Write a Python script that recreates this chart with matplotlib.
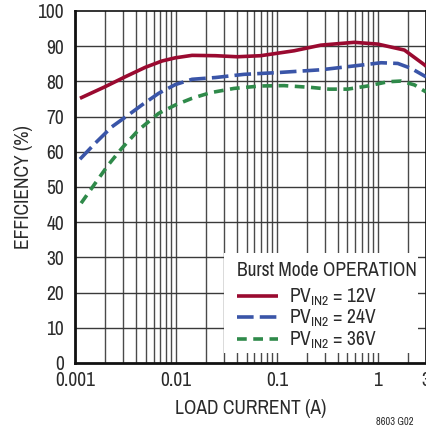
import matplotlib
matplotlib.use("Agg")
import matplotlib.pyplot as plt
from matplotlib.patches import Rectangle
from matplotlib.ticker import FixedLocator, NullFormatter, NullLocator

FONT = ['Archivo Narrow', 'Roboto Condensed', 'DejaVu Sans']
plt.rcParams['font.family'] = FONT
plt.rcParams['mathtext.fontset'] = 'custom'
plt.rcParams['mathtext.rm'] = 'Archivo Narrow'
plt.rcParams['mathtext.default'] = 'regular'

# Efficiency vs load current, Burst Mode operation
i_12v = [0.00112, 0.00199, 0.00314, 0.00497, 0.00728, 0.00986, 0.01445, 0.02464,
         0.0405, 0.069, 0.148, 0.2725, 0.584, 0.998, 1.834, 2.9, 3.0]
eff_12v = [75.2, 78.5, 81.3, 84.0, 85.8, 86.7, 87.4, 87.3,
           87.0, 87.3, 88.7, 90.3, 91.1, 90.6, 88.9, 84.7, 84.3]

i_24v = [0.00112, 0.00158, 0.00232, 0.00339, 0.0046, 0.00673, 0.00986, 0.01445,
         0.02464, 0.0471, 0.1012, 0.2725, 0.584, 1.077, 1.577, 2.138, 3.0]
eff_24v = [57.9, 62.4, 67.1, 70.5, 73.3, 76.6, 79.1, 80.6,
           81.1, 82.0, 82.5, 83.3, 84.4, 85.3, 85.1, 83.7, 81.3]

i_36v = [0.00115, 0.00158, 0.00214, 0.00291, 0.00426, 0.00673, 0.00986, 0.01445,
         0.02198, 0.0375, 0.069, 0.1177, 0.2168, 0.3296, 0.502, 0.794, 1.254,
         1.701, 2.306, 3.0]
eff_36v = [45.4, 51.0, 56.3, 61.0, 66.2, 70.9, 73.3, 75.2,
           76.8, 78.0, 78.7, 78.8, 78.3, 77.8, 77.8, 78.7, 79.9,
           80.1, 79.0, 77.0]

x_ticks = [0.001, 0.01, 0.1, 1, 3]
x_tick_labels = ['0.001', '0.01', '0.1', '1', '3']
y_ticks = list(range(0, 101, 10))

labels = [r'PV$_{IN2}$ = 12V', r'PV$_{IN2}$ = 24V', r'PV$_{IN2}$ = 36V']
colors = ['#9a0a30', '#3a55a8', '#2f8a4a']
TEXT = '#2a2a2a'

fig = plt.figure(figsize=(4.27, 4.33), dpi=100)
ax = fig.add_axes([75/427, 70/433, 351/427, 352/433])

ax.set_xscale('log')
ax.set_xlim(0.001, 3)
ax.set_ylim(0, 100)

# grid: decades plus every 2..9 subdivision
grid_x = []
for dec in [0.001, 0.01, 0.1, 1]:
    for k in range(1, 10):
        v = dec * k
        if v <= 3:
            grid_x.append(v)
for v in grid_x:
    ax.axvline(v, color='#4a4a4a', lw=1.0, zorder=1)
for v in y_ticks[1:-1]:
    ax.axhline(v, color='#3a3a3a', lw=1.0, zorder=1)

ax.xaxis.set_major_locator(FixedLocator(x_ticks))
ax.set_xticklabels(x_tick_labels)
ax.xaxis.set_minor_locator(NullLocator())
ax.xaxis.set_minor_formatter(NullFormatter())
ax.set_yticks(y_ticks)
ax.tick_params(length=0, labelsize=14, colors=TEXT)
ax.tick_params(axis='y', pad=8)
ax.tick_params(axis='x', pad=6)

for s in ax.spines.values():
    s.set_color('#111111')
    s.set_linewidth(1.2)
ax.spines['left'].set_linewidth(2)
ax.spines['bottom'].set_linewidth(2)

l1, = ax.plot(i_12v, eff_12v, color=colors[0], lw=2.6, zorder=3, solid_capstyle='butt')
l2, = ax.plot(i_24v, eff_24v, color=colors[1], lw=2.6, zorder=3,
              dashes=(4.6, 1.7), dash_capstyle='butt')
l3, = ax.plot(i_36v, eff_36v, color=colors[2], lw=2.6, zorder=3,
              dashes=(2.7, 1.8), dash_capstyle='butt')

# white panel behind the legend
ax.add_patch(Rectangle((149/351, 10/352), 194/351, 100/352, transform=ax.transAxes,
                       facecolor='white', edgecolor='none', zorder=2))

leg = ax.legend([l1, l2, l3], labels, title='Burst Mode OPERATION',
                loc='upper left', bbox_to_anchor=(158/351, 106/352),
                frameon=False, fontsize=14, title_fontsize=14,
                handlelength=2.1, handletextpad=0.6, labelspacing=0.0,
                borderpad=0.2, borderaxespad=0)
leg._legend_box.sep = 5
leg.set_zorder(4)
leg._legend_box.align = 'left'
leg.get_title().set_color(TEXT)
for t in leg.get_texts():
    t.set_color(TEXT)

ax.set_xlabel('LOAD CURRENT (A)', fontsize=14, color=TEXT, labelpad=6)
ax.set_ylabel('EFFICIENCY (%)', fontsize=14, color=TEXT, labelpad=3)

fig.text(414/427, 6/433, '8603 G02', fontsize=7.5, color=TEXT, ha='right', va='bottom')

fig.savefig('out.png', dpi=100)
